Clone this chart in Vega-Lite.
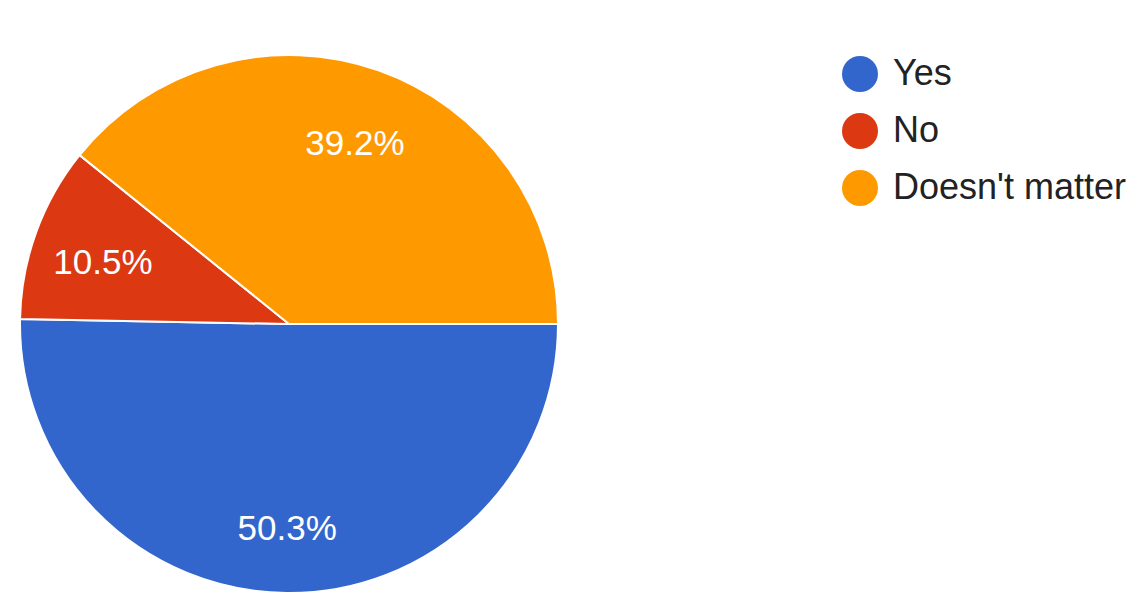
{
  "$schema": "https://vega.github.io/schema/vega-lite/v6.json",
  "width": 578,
  "height": 572,
  "padding": {"left": 0, "top": 38, "right": 0, "bottom": 0},
  "autosize": {"type": "pad"},
  "background": "white",
  "config": {"view": {"stroke": null}, "font": "Liberation Sans"},
  "data": {
    "values": [
      {"answer": "Yes", "pct": 0.503, "idx": 1},
      {"answer": "No", "pct": 0.105, "idx": 2},
      {"answer": "Doesn't matter", "pct": 0.392, "idx": 3}
    ]
  },
  "encoding": {
    "theta": {"field": "pct", "type": "quantitative", "stack": true, "scale": {"range": [1.5707963, 7.8539816]}},
    "order": {"field": "idx", "type": "quantitative"},
    "color": {
      "field": "answer",
      "type": "nominal",
      "sort": ["Yes", "No", "Doesn't matter"],
      "scale": {"domain": ["Yes", "No", "Doesn't matter"], "range": ["#3366CC", "#DC3912", "#FF9900"]},
      "legend": {
        "title": null,
        "orient": "none",
        "legendX": 842,
        "legendY": 18,
        "symbolType": "circle",
        "symbolSize": 1296,
        "symbolStrokeWidth": 0,
        "symbolOpacity": 1,
        "labelFontSize": 36,
        "labelColor": "#222222",
        "labelFont": "Liberation Sans",
        "labelOffset": 15,
        "rowPadding": 21,
        "padding": 0,
        "labelLimit": 400
      }
    }
  },
  "layer": [
    {"mark": {"type": "arc", "outerRadius": 269, "stroke": "white", "strokeWidth": 2}},
    {
      "mark": {"type": "text", "radius": 198, "dy": 7, "fontSize": 35, "font": "Liberation Sans", "fill": "white"},
      "encoding": {
        "text": {"field": "pct", "type": "quantitative", "format": ".1%"},
        "color": {"value": "white"}
      }
    }
  ]
}
